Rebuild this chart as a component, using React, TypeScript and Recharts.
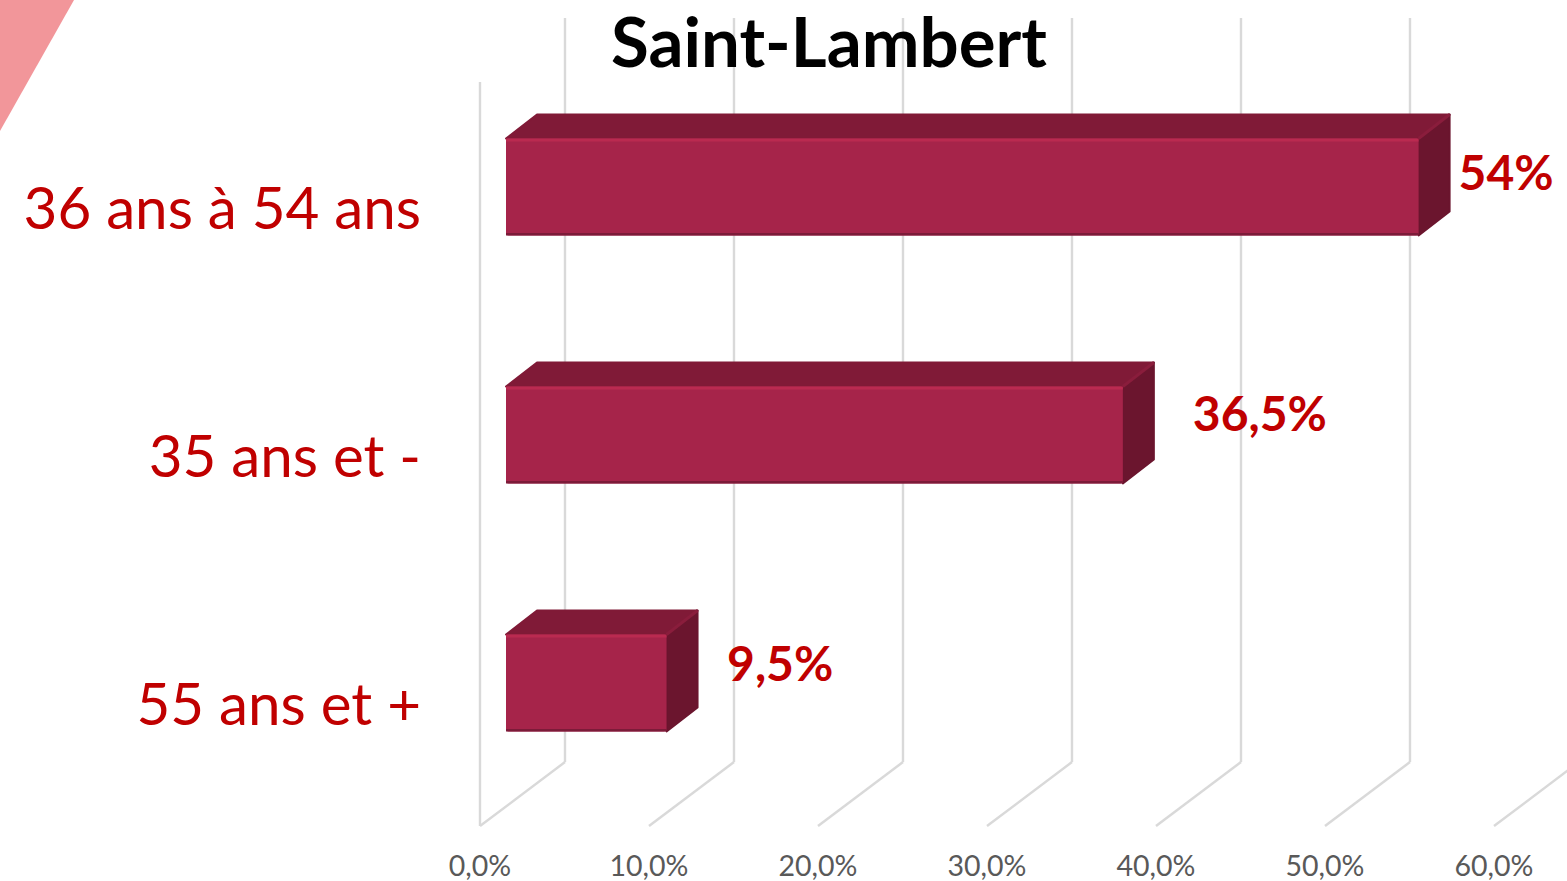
import React from "react";
import { BarChart, Bar, XAxis, YAxis, LabelList, CartesianGrid } from "recharts";

const chartTitle = "Saint-Lambert";
const categories = ["36 ans à 54 ans", "35 ans et -", "55 ans et +"];
const seriesValues = [54, 36.5, 9.5];
const axisTicks = [0, 10, 20, 30, 40, 50, 60];

const rows = categories.map((category, i) => ({ category, value: seriesValues[i] }));

const W = 1567;
const H = 881;
const PLOT_TOP = 82;
const PLOT_BOTTOM = 826;
const PLOT_LEFT = 480;
const PLOT_RIGHT = 1494;
const FONT = "Lato, Carlito, Calibri, sans-serif";
const RED = "#C00000";
const GRID = "#D9D9D9";
const BAR_SHIFT_X = 26;
const BAR_SHIFT_Y = -19.5;
const DEPTH_X = 31;
const DEPTH_Y = -24;
const WALL_X = 85;
const WALL_Y = -64;
const WALL_TOP = 18;
const LABEL_OFFSETS = [
  { dx: 40, dy: -34 },
  { dx: 70, dy: -41 },
  { dx: 60.5, dy: -39 },
];

const GridLine = (props: any) => {
  const { x1: x, index } = props;
  const bx = x + WALL_X;
  const by = PLOT_BOTTOM + WALL_Y;
  return (
    <g>
      {index === 0 && <line x1={x} y1={PLOT_TOP} x2={x} y2={PLOT_BOTTOM} stroke={GRID} strokeWidth={2.4} />}
      <line x1={x} y1={PLOT_BOTTOM} x2={bx} y2={by} stroke={GRID} strokeWidth={2.4} />
      <line x1={bx} y1={by} x2={bx} y2={WALL_TOP} stroke={GRID} strokeWidth={2.4} />
    </g>
  );
};

const XTick = (props: any) => {
  const { x, payload } = props;
  return (
    <text x={x} y={876} textAnchor="middle" fontFamily={FONT} fontSize={28.5} fill="#595959">
      {payload.value.toFixed(1).replace(".", ",")}%
    </text>
  );
};

const YTick = (props: any) => {
  const { y, payload } = props;
  return (
    <text x={421} y={y + 23} textAnchor="end" fontFamily={FONT} fontSize={58.3} fill={RED}>
      {payload.value}
    </text>
  );
};

const Bar3D = (props: any) => {
  const { x, y, width, height } = props;
  const l = x + BAR_SHIFT_X;
  const t = y + BAR_SHIFT_Y;
  const r = l + width;
  const b = t + height;
  return (
    <g>
      <path
        d={`M${l},${t} L${l + DEPTH_X},${t + DEPTH_Y} H${r + DEPTH_X} L${r},${t} Z`}
        fill="#801A37"
        stroke="#801A37"
        strokeWidth={2}
        strokeLinejoin="round"
      />
      <path
        d={`M${r},${t} L${r + DEPTH_X},${t + DEPTH_Y} V${b + DEPTH_Y} L${r},${b} Z`}
        fill="#6B152E"
        stroke="#6B152E"
        strokeWidth={2}
        strokeLinejoin="round"
      />
      <line x1={r} y1={t} x2={r + DEPTH_X} y2={t + DEPTH_Y} stroke="#8A1D3C" strokeWidth={3} />
      <rect x={l} y={t} width={width} height={height} rx={2.5} fill="#A6244A" />
      <rect x={l} y={t} width={width} height={3} fill="#BA2A50" />
      <rect x={l} y={b - 2.5} width={width} height={2.5} fill="#7C1B39" />
    </g>
  );
};

const ValueLabel = (props: any) => {
  const { x, y, width, height, value, index } = props;
  const off = LABEL_OFFSETS[index];
  const tx = x + width + BAR_SHIFT_X + off.dx;
  const ty = y + height / 2 + off.dy;
  return (
    <text x={tx} y={ty + 17} fontFamily={FONT} fontWeight={700} fontSize={48} fill={RED}>
      {String(value).replace(".", ",")}%
    </text>
  );
};

export default function App() {
  return (
    <div style={{ position: "absolute", left: 0, top: 0, width: W, height: H, background: "#fff", overflow: "hidden" }}>
      <svg width={W} height={H} style={{ position: "absolute", left: 0, top: 0 }}>
        <polygon points="0,0 74,0 0,131" fill="#F2969A" />
      </svg>
      <div style={{ position: "absolute", left: 0, top: 0 }}>
        <BarChart
          width={W}
          height={H}
          data={rows}
          layout="vertical"
          barCategoryGap={0}
          margin={{ top: PLOT_TOP, bottom: 0, left: 0, right: W - PLOT_RIGHT }}
        >
          <CartesianGrid horizontal={false} vertical={(p: any) => <GridLine key={p.key} {...p} />} />
          <XAxis
            type="number"
            dataKey="value"
            domain={[0, 60]}
            ticks={axisTicks}
            interval={0}
            height={H - PLOT_BOTTOM}
            axisLine={false}
            tickLine={false}
            tick={<XTick />}
          />
          <YAxis
            type="category"
            dataKey="category"
            width={PLOT_LEFT}
            axisLine={false}
            tickLine={false}
            interval={0}
            tick={<YTick />}
          />
          <Bar dataKey="value" barSize={97} isAnimationActive={false} shape={<Bar3D />}>
            <LabelList dataKey="value" content={<ValueLabel />} />
          </Bar>
          <text x={829} y={67} textAnchor="middle" fontFamily={FONT} fontWeight={700} fontSize={69} fill="#000">
            {chartTitle}
          </text>
        </BarChart>
      </div>
    </div>
  );
}
